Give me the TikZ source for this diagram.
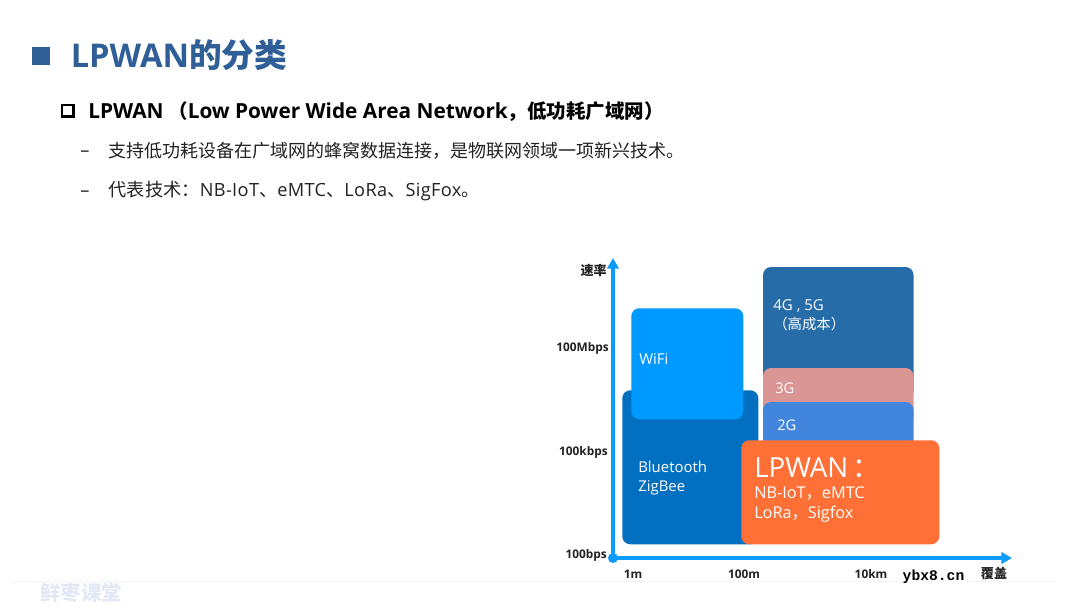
\documentclass[tikz,border=0pt]{standalone}
\usepackage{fontspec}
\setmainfont{Open Sans}
\newfontfamily\cjk{Noto Sans CJK SC}
\newfontfamily\wmfont{Liberation Mono}
\usetikzlibrary{arrows.meta}
\definecolor{titleblue}{HTML}{2F5F96}
\definecolor{axisblue}{HTML}{0C9BFF}
\definecolor{inkdark}{HTML}{222222}
\tikzset{
  x=0.75pt,y=-0.75pt,
  box/.style={anchor=north west,rounded corners=6pt,inner sep=0pt,draw=none},
  lab/.style={anchor=west,inner sep=0pt,text=white,align=left},
  axl/.style={inner sep=0pt,text=inkdark,font=\fontsize{8.9pt}{10pt}\selectfont\bfseries},
  axisline/.style={draw=axisblue,line width=2.4pt,-{Triangle[length=8pt,width=8.5pt]}},
  body/.style={anchor=west,inner sep=0pt,text=inkdark,font=\fontsize{13.65pt}{16pt}\selectfont},
}
\begin{document}
\begin{tikzpicture}
\useasboundingbox (0,0) rectangle (1080,608);
\fill[white] (0,0) rectangle (1080,608);
% header
\node[anchor=north west,minimum width=13.5pt,minimum height=13pt,inner sep=0pt,fill=titleblue] (m1) at (32,47) {};
\node[anchor=west,inner sep=0pt,text=titleblue,font=\fontsize{24.5pt}{28pt}\selectfont\bfseries] (title) at (70.5,55.5) {LPWAN{\cjk 的分类}};
\node[anchor=north west,minimum width=8.6pt,minimum height=8.6pt,inner sep=0pt,draw=black,line width=1.9pt] (m2) at (60.5,103.5) {};
\node[anchor=west,inner sep=0pt,text=black,font=\fontsize{15.6pt}{18pt}\selectfont\bfseries] (sub) at (88,112) {LPWAN\hspace{3.5pt}{\fontsize{14.6pt}{18pt}\selectfont\cjk （}Low Power Wide Area Network{\fontsize{14.6pt}{18pt}\selectfont\cjk ，低功耗广域网）}};
\node[body] (d1) at (80,154) {–};
\node[body,font=\fontsize{13.5pt}{16pt}\selectfont] (t1) at (108.5,151) {\cjk 支持低功耗设备在广域网的蜂窝数据连接，是物联网领域一项新兴技术。};
\node[body] (d2) at (80,194) {–};
\node[body] (t2) at (108.5,191) {{\cjk 代表技术：}\addfontfeature{LetterSpace=2}NB-IoT{\cjk 、}eMTC{\cjk 、}LoRa{\cjk 、}SigFox{\cjk 。}};
% boxes
\node[box,fill=white,minimum width=150.75pt,minimum height=85pt] (g4) at (763,267) {};
\path[fill={rgb,255:red,38;green,108;blue,168},rounded corners=6pt] (763,267) rectangle (913.5,400);
\path[fill={rgb,255:red,217;green,150;blue,148},rounded corners=6pt] (763,368) rectangle (913.5,425);
\path[fill={rgb,255:red,65;green,133;blue,220},rounded corners=6pt] (763,402) rectangle (913.5,460);
\node[box,fill={rgb,255:red,2;green,111;blue,192},minimum width=102pt,minimum height=115.5pt] (bt) at (622,390) {};
\node[box,fill={rgb,255:red,0;green,153;blue,255},minimum width=84pt,minimum height=83.25pt] (wifi) at (631,308) {};
\node[box,fill={rgb,255:red,255;green,112;blue,54},minimum width=148.5pt,minimum height=78pt] (lp) at (741,440) {};
% box labels
\node[lab,font=\fontsize{11.3pt}{12pt}\selectfont] (l4) at (773,306.5) {4G , 5G};
\node[lab,font=\fontsize{10.8pt}{12pt}\selectfont\cjk] (l4b) at (773,324) {（高成本）};
\node[lab,font=\fontsize{11pt}{12pt}\selectfont] (l3) at (775,388) {3G};
\node[lab,font=\fontsize{11pt}{12pt}\selectfont] (l2) at (777,425) {2G};
\node[lab,font=\fontsize{11.2pt}{12pt}\selectfont] (lw) at (639,359) {WiFi};
\node[lab,font=\fontsize{11.2pt}{13.8pt}\selectfont] (lb) at (638,478) {Bluetooth\\ZigBee};
\node[lab,font=\fontsize{20.8pt}{24pt}\selectfont] (ll) at (754,467.5) {LPWAN\hspace{3pt}{\cjk ：}};
\node[lab,font=\fontsize{12.2pt}{14.5pt}\selectfont] (ln) at (754,504.5) {NB-IoT{\cjk ，}eMTC\\LoRa{\cjk ，}Sigfox};
% axes
\node[circle,fill=axisblue,minimum size=7.5pt,inner sep=0pt] (o) at (613,558) {};
\coordinate (yt) at (613,258);
\coordinate (xt) at (1012,558);
\draw[axisline] (o.center) -- (yt);
\draw[axisline] (o.center) -- (xt);
% axis labels
\node[axl,anchor=east,font=\fontsize{9.8pt}{11pt}\selectfont\bfseries\cjk] (ay) at (607,270) {速率};
\node[axl,anchor=east] (a1) at (609,348) {100Mbps};
\node[axl,anchor=east] (a2) at (608,452.5) {100kbps};
\node[axl,anchor=east] (a3) at (607,555.5) {100bps};
\node[axl] (b1) at (633,574.5) {1m};
\node[axl] (b2) at (744,574.5) {100m};
\node[axl] (b3) at (871,574.5) {10km};
\node[axl,font=\fontsize{9.8pt}{11pt}\selectfont\bfseries\cjk] (ax) at (994,573) {覆盖};
% footer
\coordinate (fa) at (12,581.5);
\coordinate (fb) at (1056,581.5);
\draw[draw={rgb,255:red,242;green,244;blue,251},line width=0.8pt] (fa) -- (fb);
\node[anchor=west,inner sep=0pt,text={rgb,255:red,226;green,233;blue,245},font=\fontsize{15.3pt}{17pt}\selectfont\bfseries\cjk] (logo) at (40,593) {鲜枣课堂};
\node[inner sep=1pt,fill=white,text=black,font=\fontsize{11pt}{12pt}\selectfont\bfseries\wmfont] (wm) at (933.5,577) {ybx8.cn};
\end{tikzpicture}
\end{document}
